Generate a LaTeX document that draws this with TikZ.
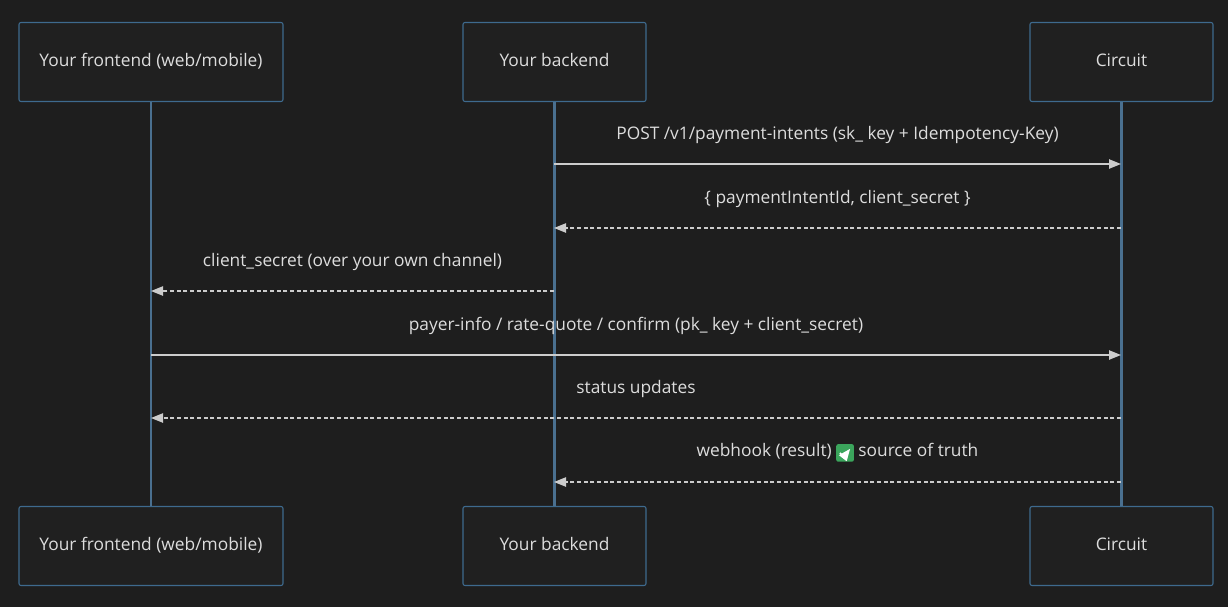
\documentclass[tikz,border=0pt]{standalone}
\usepackage{fontspec}
\setmainfont{Open Sans}
\usetikzlibrary{arrows.meta}
\definecolor{bg}{HTML}{1E1E1E}
\definecolor{boxfill}{HTML}{202020}
\definecolor{boxline}{HTML}{3E6A8E}
\definecolor{life}{HTML}{4A7090}
\definecolor{msg}{HTML}{CCCCCC}
\definecolor{txt}{HTML}{DDDDDD}
\definecolor{ok}{HTML}{3BA55C}
\newcommand{\chk}{\tikz[baseline=-0.3ex,x=1cm,y=1cm]{\fill[ok,rounded corners=1.5pt](0,-0.9ex) rectangle (1.9ex,1.0ex);\draw[white,line width=1.3pt](0.4ex,0.05ex)--(0.8ex,-0.4ex)--(1.5ex,0.5ex);}}
\begin{document}
\begin{tikzpicture}[x=0.75pt,y=-0.75pt,
  actor/.style={draw=boxline,fill=boxfill,rounded corners=1.5pt,line width=0.8pt,text=txt,font=\fontsize{13}{15}\selectfont,minimum height=79*0.75pt,inner sep=0pt,text height=9.5pt,text depth=2.5pt},
  lifeline/.style={draw=life,line width=1.6pt},
  call/.style={draw=msg,line width=1pt,-{Triangle[length=9pt,width=7pt]}},
  ret/.style={call,densely dashed},
  lbl/.style={text=txt,font=\fontsize{13}{15}\selectfont,inner sep=0pt}]
\fill[bg] (0,0) rectangle (1228,607);
\useasboundingbox (0,0) rectangle (1228,607);
\node[actor,minimum width=264*0.75pt] (ft) at (151,62) {Your frontend (web/mobile)};
\node[actor,minimum width=183*0.75pt] (bt) at (554.5,62) {Your backend};
\node[actor,minimum width=183*0.75pt] (ct) at (1121.5,62) {Circuit};
\node[actor,minimum width=264*0.75pt] (fb) at (151,546) {Your frontend (web/mobile)};
\node[actor,minimum width=183*0.75pt] (bb) at (554.5,546) {Your backend};
\node[actor,minimum width=183*0.75pt] (cb) at (1121.5,546) {Circuit};
\draw[lifeline] (ft.south) -- (fb.north);
\draw[lifeline] (bt.south) -- (bb.north);
\draw[lifeline] (ct.south) -- (cb.north);
\coordinate (b1) at (554,164); \coordinate (c1) at (1121,164);
\coordinate (c2) at (1121,228); \coordinate (b2) at (554,228);
\coordinate (b3) at (554,291); \coordinate (f3) at (151,291);
\coordinate (f4) at (151,355); \coordinate (c4) at (1121,355);
\coordinate (c5) at (1121,418); \coordinate (f5) at (151,418);
\coordinate (c6) at (1121,482); \coordinate (b6) at (554,482);
\draw[call] (b1) -- (c1) node[lbl,midway,above=15pt] {POST /v1/payment-intents (sk\_ key + Idempotency-Key)};
\draw[ret] (c2) -- (b2) node[lbl,midway,above=15pt] {\{ paymentIntentId, client\_secret \}};
\draw[ret] (b3) -- (f3) node[lbl,midway,above=15pt] {client\_secret (over your own channel)};
\draw[call] (f4) -- (c4) node[lbl,midway,above=15pt] {payer-info / rate-quote / confirm (pk\_ key + client\_secret)};
\draw[ret] (c5) -- (f5) node[lbl,midway,above=15pt] {status updates};
\draw[ret] (c6) -- (b6) node[lbl,midway,above=15pt] {webhook (result) \chk{} source of truth};
\end{tikzpicture}
\end{document}
